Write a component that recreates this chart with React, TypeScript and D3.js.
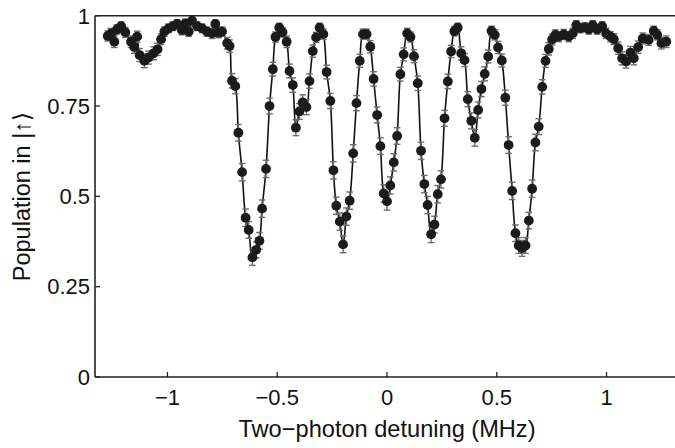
import React from "react";
import * as d3 from "d3";

// [detuning (MHz), population, error]
const points: [number, number, number][] = [
  [-1.272, 0.944, 0.014], [-1.257, 0.951, 0.014], [-1.242, 0.928, 0.016], [-1.23, 0.962, 0.013],
  [-1.211, 0.971, 0.012], [-1.192, 0.954, 0.014], [-1.166, 0.928, 0.016], [-1.151, 0.913, 0.017],
  [-1.138, 0.942, 0.015], [-1.127, 0.891, 0.018], [-1.105, 0.875, 0.019], [-1.086, 0.884, 0.018],
  [-1.063, 0.896, 0.018], [-1.045, 0.907, 0.017], [-1.029, 0.935, 0.015], [-1.014, 0.956, 0.013],
  [-0.995, 0.965, 0.012], [-0.975, 0.971, 0.012], [-0.956, 0.977, 0.011], [-0.934, 0.96, 0.013],
  [-0.918, 0.979, 0.011], [-0.903, 0.956, 0.013], [-0.888, 0.986, 0.01], [-0.865, 0.971, 0.012],
  [-0.842, 0.965, 0.012], [-0.82, 0.956, 0.013], [-0.797, 0.951, 0.014], [-0.782, 0.977, 0.011],
  [-0.767, 0.953, 0.014], [-0.751, 0.956, 0.013], [-0.728, 0.924, 0.016], [-0.717, 0.916, 0.017],
  [-0.706, 0.82, 0.02], [-0.691, 0.805, 0.021], [-0.677, 0.676, 0.023], [-0.66, 0.567, 0.024],
  [-0.644, 0.441, 0.024], [-0.63, 0.407, 0.023], [-0.613, 0.331, 0.022], [-0.596, 0.352, 0.022],
  [-0.581, 0.377, 0.023], [-0.569, 0.466, 0.024], [-0.551, 0.576, 0.024], [-0.535, 0.75, 0.022],
  [-0.52, 0.852, 0.019], [-0.508, 0.941, 0.014], [-0.491, 0.967, 0.012], [-0.476, 0.954, 0.013],
  [-0.457, 0.928, 0.016], [-0.444, 0.847, 0.019], [-0.429, 0.808, 0.02], [-0.415, 0.69, 0.022],
  [-0.399, 0.735, 0.022], [-0.384, 0.76, 0.021], [-0.367, 0.747, 0.021], [-0.353, 0.819, 0.02],
  [-0.338, 0.902, 0.017], [-0.323, 0.94, 0.014], [-0.307, 0.967, 0.012], [-0.29, 0.949, 0.014],
  [-0.275, 0.844, 0.019], [-0.258, 0.764, 0.021], [-0.244, 0.572, 0.024], [-0.231, 0.474, 0.024],
  [-0.215, 0.43, 0.024], [-0.2, 0.367, 0.023], [-0.185, 0.444, 0.024], [-0.17, 0.488, 0.024],
  [-0.154, 0.619, 0.024], [-0.139, 0.758, 0.021], [-0.124, 0.875, 0.018], [-0.109, 0.949, 0.014],
  [-0.093, 0.949, 0.014], [-0.076, 0.914, 0.017], [-0.061, 0.825, 0.02], [-0.045, 0.725, 0.022],
  [-0.03, 0.639, 0.023], [-0.015, 0.508, 0.024], [0.0, 0.486, 0.024], [0.015, 0.53, 0.024],
  [0.031, 0.594, 0.024], [0.046, 0.667, 0.023], [0.061, 0.838, 0.019], [0.076, 0.893, 0.018],
  [0.092, 0.951, 0.014], [0.107, 0.941, 0.014], [0.123, 0.888, 0.018], [0.14, 0.813, 0.02],
  [0.155, 0.626, 0.024], [0.17, 0.534, 0.024], [0.185, 0.476, 0.024], [0.201, 0.395, 0.023],
  [0.216, 0.422, 0.023], [0.231, 0.506, 0.024], [0.246, 0.547, 0.024], [0.262, 0.716, 0.022],
  [0.277, 0.818, 0.02], [0.292, 0.901, 0.017], [0.307, 0.957, 0.013], [0.322, 0.967, 0.012],
  [0.338, 0.896, 0.018], [0.353, 0.877, 0.018], [0.368, 0.769, 0.021], [0.384, 0.709, 0.022],
  [0.4, 0.662, 0.023], [0.415, 0.739, 0.022], [0.43, 0.797, 0.021], [0.445, 0.839, 0.019],
  [0.461, 0.887, 0.018], [0.476, 0.958, 0.013], [0.491, 0.947, 0.014], [0.506, 0.912, 0.017],
  [0.523, 0.876, 0.018], [0.539, 0.773, 0.021], [0.554, 0.642, 0.023], [0.57, 0.515, 0.024],
  [0.585, 0.398, 0.023], [0.6, 0.364, 0.022], [0.615, 0.356, 0.022], [0.631, 0.364, 0.022],
  [0.646, 0.433, 0.023], [0.661, 0.521, 0.024], [0.676, 0.649, 0.023], [0.691, 0.693, 0.022],
  [0.707, 0.803, 0.02], [0.722, 0.875, 0.018], [0.737, 0.908, 0.017], [0.752, 0.934, 0.015],
  [0.767, 0.947, 0.014], [0.782, 0.942, 0.014], [0.805, 0.948, 0.014], [0.828, 0.942, 0.014],
  [0.846, 0.951, 0.014], [0.862, 0.974, 0.012], [0.881, 0.965, 0.012], [0.901, 0.968, 0.012],
  [0.919, 0.962, 0.013], [0.937, 0.974, 0.012], [0.957, 0.962, 0.013], [0.98, 0.971, 0.012],
  [0.998, 0.951, 0.014], [1.018, 0.942, 0.014], [1.033, 0.935, 0.015], [1.053, 0.91, 0.017],
  [1.071, 0.882, 0.018], [1.089, 0.873, 0.018], [1.109, 0.898, 0.017], [1.124, 0.882, 0.018],
  [1.144, 0.913, 0.017], [1.165, 0.937, 0.015], [1.192, 0.933, 0.015], [1.215, 0.958, 0.013],
  [1.231, 0.947, 0.014], [1.25, 0.924, 0.016], [1.272, 0.928, 0.016],
];

const xTicks = [-1, -0.5, 0, 0.5, 1];
const xTickLabels = ["\u22121", "\u22120.5", "0", "0.5", "1"];
const yTicks = [0, 0.25, 0.5, 0.75, 1];
const yTickLabels = ["0", "0.25", "0.5", "0.75", "1"];

const W = 675;
const H = 448;
const FONT = "'Liberation Sans', Arial, Helvetica, 'DejaVu Sans', sans-serif";

export default function App() {
  const x = d3.scaleLinear().domain([-1.33, 1.33]).range([95, 679]);
  const y = d3.scaleLinear().domain([0, 1]).range([377, 15.7]);
  const left = x.range()[0];
  const line = d3
    .line<[number, number, number]>()
    .x((d) => x(d[0]))
    .y((d) => y(d[1]))
    .curve(d3.curveCatmullRom.alpha(0.5));
  const axisColor = "#222";
  const cap = 3.3;
  return (
    <svg
      width={W}
      height={H}
      style={{ position: "absolute", left: 0, top: 0, background: "#fff" }}
      fontFamily={FONT}
    >
      <rect x={0} y={0} width={W} height={H} fill="#fff" />
      {/* spines */}
      <line x1={left} x2={W} y1={y(1)} y2={y(1)} stroke={axisColor} strokeWidth={1.6} />
      <line x1={left} x2={W} y1={y(0)} y2={y(0)} stroke={axisColor} strokeWidth={1.6} />
      <line x1={left} x2={left} y1={y(1)} y2={y(0)} stroke={axisColor} strokeWidth={1.6} />
      {/* x ticks */}
      {xTicks.map((t, i) => (
        <g key={"xt" + i}>
          <line x1={x(t)} x2={x(t)} y1={y(0)} y2={y(0) - 5} stroke={axisColor} strokeWidth={1.3} />
          <text x={x(t)} y={404.5} fontSize={22} textAnchor="middle" fill="#111">
            {xTickLabels[i]}
          </text>
        </g>
      ))}
      {/* y ticks */}
      {yTicks.map((t, i) => (
        <g key={"yt" + i}>
          <line x1={left} x2={left + 5} y1={y(t)} y2={y(t)} stroke={axisColor} strokeWidth={1.3} />
          <text x={90} y={y(t) + 7.8} fontSize={22} textAnchor="end" fill="#111">
            {yTickLabels[i]}
          </text>
        </g>
      ))}
      {/* fit line */}
      <path d={line(points) || ""} fill="none" stroke="#111" strokeWidth={1.6} />
      {/* error bars */}
      {points.map((d, i) => (
        <g key={"e" + i} stroke="#6e6e6e" strokeWidth={1.4}>
          <line x1={x(d[0])} x2={x(d[0])} y1={y(d[1] - d[2])} y2={y(d[1] + d[2])} />
          <line x1={x(d[0]) - cap} x2={x(d[0]) + cap} y1={y(d[1] - d[2])} y2={y(d[1] - d[2])} />
          <line x1={x(d[0]) - cap} x2={x(d[0]) + cap} y1={y(d[1] + d[2])} y2={y(d[1] + d[2])} />
        </g>
      ))}
      {/* data points */}
      {points.map((d, i) => (
        <circle key={"p" + i} cx={x(d[0])} cy={y(d[1])} r={4.9} fill="#1b1b1b" />
      ))}
      {/* axis labels */}
      <text x={387} y={437} fontSize={23.6} textAnchor="middle" fill="#111">
        Two{"\u2212"}photon detuning (MHz)
      </text>
      <text
        transform={`translate(30, 196.5) rotate(-90)`}
        fontSize={23.5}
        textAnchor="middle"
        fill="#111"
      >
        Population in |{"\u2191"}{"\u27E9"}
      </text>
    </svg>
  );
}
